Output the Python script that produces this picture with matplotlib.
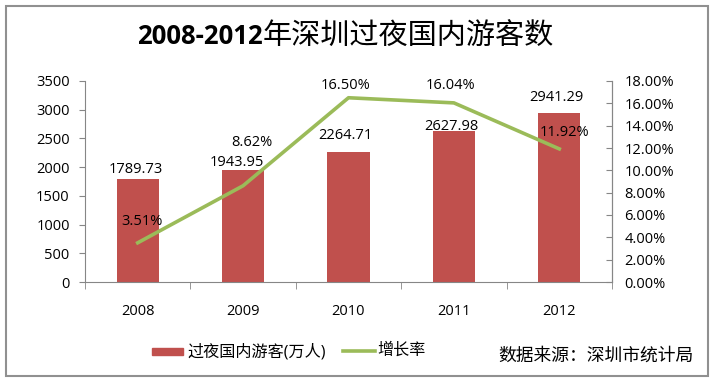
import numpy as np
import matplotlib.pyplot as plt
from matplotlib.patches import Rectangle
from matplotlib.ticker import FuncFormatter

plt.rcParams['font.family'] = ['Open Sans', 'Noto Sans CJK SC', 'DejaVu Sans']

# 数据
years = ['2008', '2009', '2010', '2011', '2012']
tourists = [1789.73, 1943.95, 2264.71, 2627.98, 2941.29]   # 万人
growth = [3.51, 8.62, 16.50, 16.04, 11.92]                 # %

# 数据标签的位置偏移 (像素, 原图里是手动拖过的)
bar_lab_off = [(-2, -10), (-6, -8), (-3, -16), (-3, -5), (-3, -16)]
line_lab_off = [(4, -21), (9, -43), (-3, -12), (-3, -17), (5, -16)]

bar_color = '#C0504D'
line_color = '#9BBB59'
axis_color = '#868686'

fig = plt.figure(figsize=(7.14, 3.81), dpi=100)
W, H = 714, 381

# 外框
fig.patches.append(Rectangle((6 / W, 5 / H), 702 / W, 370 / H, transform=fig.transFigure,
                             fill=False, edgecolor='#909090', linewidth=1.5))

ax = fig.add_axes([85 / W, (H - 282) / H, 527 / W, 201 / H])
x = np.arange(len(years))
ax.bar(x, tourists, width=0.4, color=bar_color, zorder=2)
ax.set_xlim(-0.5, len(years) - 0.5)
ax.set_ylim(0, 3500)
ax.set_yticks(np.arange(0, 3501, 500))
ax.set_xticks(x)
ax.set_xticklabels(years)
ax.set_xticks(np.arange(-0.5, len(years), 1), minor=True)
ax.tick_params(axis='x', which='major', length=0, pad=16, labelsize=10.5)
ax.tick_params(axis='x', which='minor', length=5, color=axis_color, direction='out')
ax.tick_params(axis='y', length=4, color=axis_color, labelsize=10.5, pad=7)
ax.spines['top'].set_visible(False)
for s in ['left', 'bottom', 'right']:
    ax.spines[s].set_color(axis_color)

for xi, v, (dx, dy) in zip(x, tourists, bar_lab_off):
    ax.annotate('%.2f' % v, (xi, v), xytext=(dx, -dy), textcoords='offset pixels',
                ha='center', va='center', fontsize=10.5)

ax2 = ax.twinx()
ax2.plot(x, growth, color=line_color, linewidth=2.6, zorder=3)
ax2.set_ylim(0, 18)
ax2.set_yticks(np.arange(0, 18.1, 2))
ax2.yaxis.set_major_formatter(FuncFormatter(lambda v, p: '%.2f%%' % v))
ax2.tick_params(axis='y', length=4, color=axis_color, labelsize=10.5, pad=9, direction='in')
for s in ['top', 'left', 'bottom']:
    ax2.spines[s].set_visible(False)
ax2.spines['right'].set_color(axis_color)

for xi, v, (dx, dy) in zip(x, growth, line_lab_off):
    ax2.annotate('%.2f%%' % v, (xi, v), xytext=(dx, -dy), textcoords='offset pixels',
                 ha='center', va='center', fontsize=10.5)

# 标题
fig.text(263 / W, 1 - 37 / H, '2008-2012', ha='right', va='center',
         fontsize=18.5, fontweight='bold', family=['Open Sans', 'DejaVu Sans'])
fig.text(263 / W, 1 - 37 / H, '年深圳过夜国内游客数', ha='left', va='center',
         fontsize=21, family=['Noto Sans CJK SC'])

# 图例
fig.patches.append(Rectangle((152 / W, 1 - 355 / H), 31 / W, 7 / H, transform=fig.transFigure,
                             color=bar_color))
fig.text(187 / W, 1 - 352 / H, '过夜国内游客(万人)', ha='left', va='center', fontsize=11.6)
fig.lines.append(plt.Line2D([343 / W, 375 / W], [1 - 351 / H, 1 - 351 / H],
                            transform=fig.transFigure, color=line_color, linewidth=2.6))
fig.text(377 / W, 1 - 351 / H, '增长率', ha='left', va='center', fontsize=11.6)

fig.text(694 / W, 1 - 356 / H, '数据来源：深圳市统计局', ha='right', va='center', fontsize=12.8)

fig.savefig('out.png', dpi=100)
